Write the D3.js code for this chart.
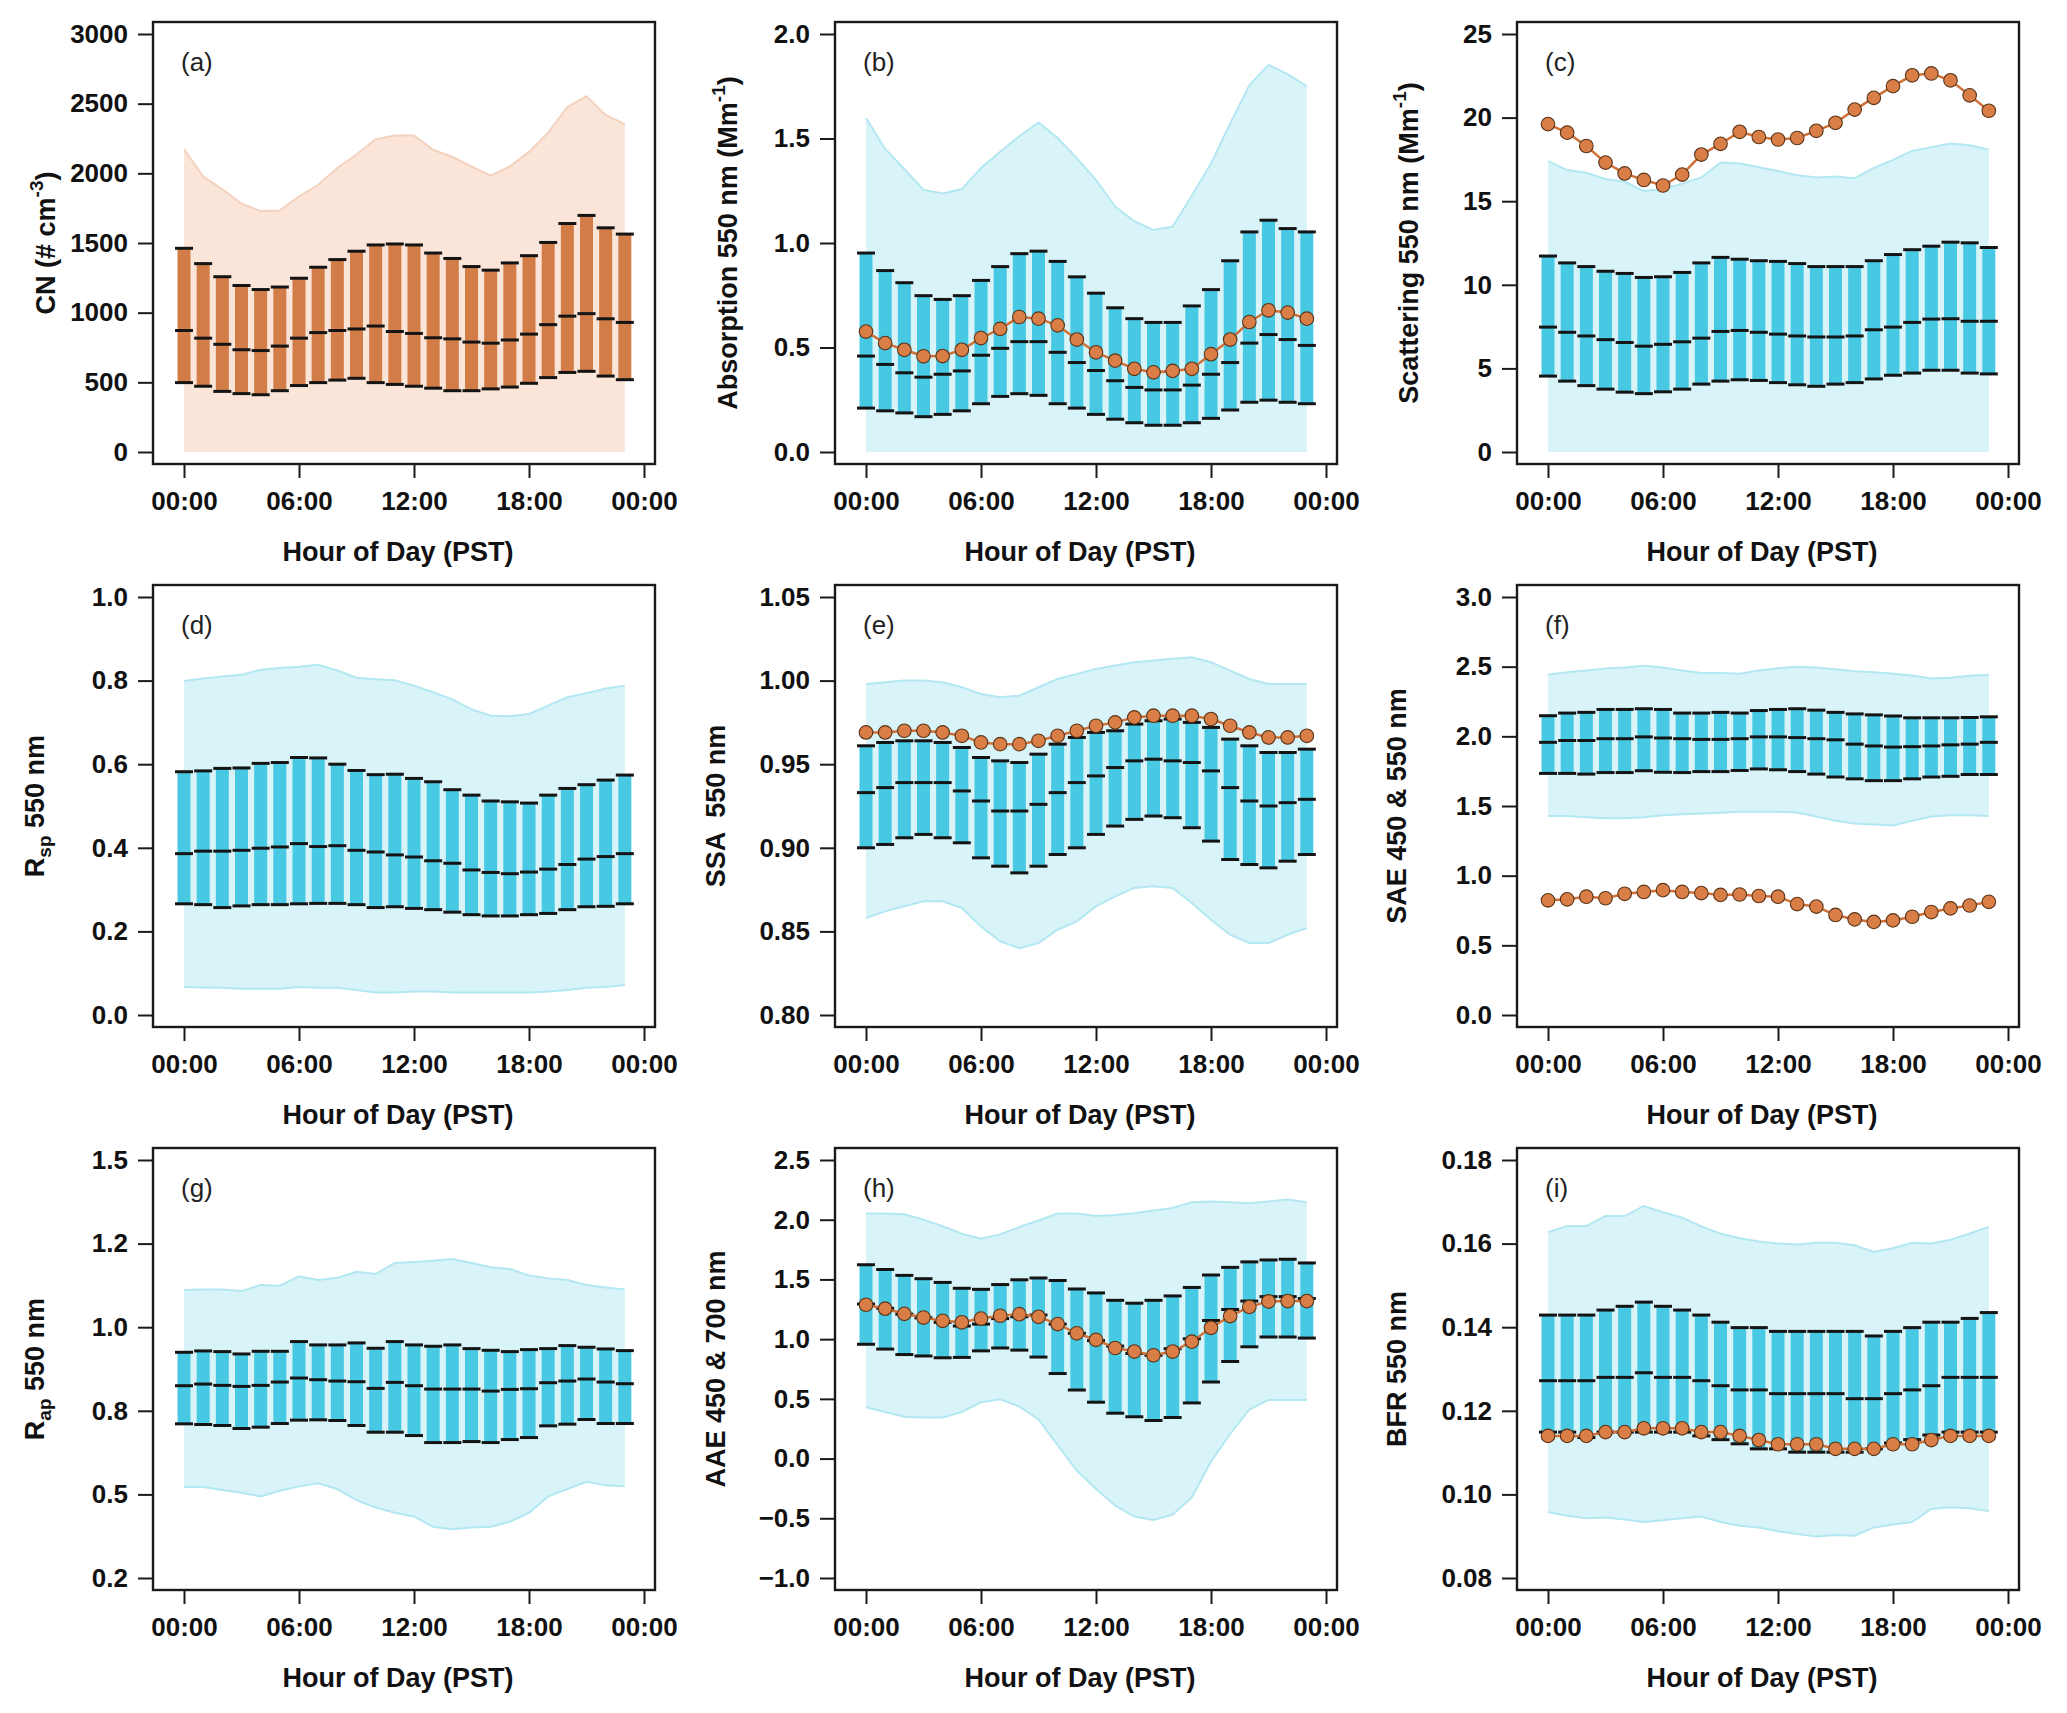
<!DOCTYPE html>
<html>
<head>
<meta charset="utf-8">
<script src="https://cdn.jsdelivr.net/npm/d3@7"></script>
<style>
    body { margin: 0; background: #fff; }
    text { font-family: "Liberation Sans", Arial, sans-serif; }
</style>
</head>
<body>
<div id="body"></div>
<script>
var hours = d3.range(24);
var zeros = [0,0,0,0,0,0,0,0,0,0,0,0,0,0,0,0,0,0,0,0,0,0,0,0];

// (a) CN
var cnTop = [1462,1352,1258,1195,1166,1184,1247,1326,1381,1441,1486,1493,1486,1428,1389,1331,1305,1357,1409,1504,1640,1698,1609,1564];
var cnMed = [872,817,773,734,728,760,817,857,872,883,904,865,851,820,812,789,781,804,846,914,975,993,956,930];
var cnBot = [498,472,435,419,411,440,477,498,516,529,498,485,472,458,440,440,453,466,493,534,571,579,545,519];
var cnHigh = [2174,1978,1886,1782,1729,1734,1834,1918,2038,2135,2245,2271,2271,2169,2117,2049,1983,2049,2154,2292,2476,2554,2418,2353];
var cnTicks = [0,500,1000,1500,2000,2500,3000];

// (b) absorption
var absTop = [0.952,0.868,0.810,0.748,0.730,0.748,0.821,0.887,0.949,0.961,0.912,0.838,0.760,0.690,0.638,0.620,0.620,0.699,0.777,0.915,1.053,1.109,1.069,1.053];
var absMed = [0.459,0.419,0.379,0.358,0.372,0.388,0.463,0.496,0.528,0.528,0.477,0.428,0.390,0.341,0.309,0.297,0.297,0.320,0.372,0.428,0.521,0.562,0.538,0.510];
var absBot = [0.210,0.197,0.187,0.169,0.180,0.197,0.231,0.266,0.279,0.271,0.231,0.210,0.180,0.157,0.140,0.128,0.128,0.140,0.161,0.201,0.238,0.248,0.238,0.231];
var absMean = [0.576,0.521,0.489,0.458,0.459,0.489,0.545,0.589,0.646,0.638,0.606,0.538,0.477,0.437,0.398,0.381,0.388,0.398,0.468,0.538,0.622,0.678,0.667,0.638];
var absHigh = [1.598,1.450,1.354,1.254,1.237,1.258,1.359,1.436,1.511,1.576,1.502,1.406,1.301,1.174,1.104,1.062,1.079,1.226,1.380,1.572,1.755,1.852,1.808,1.750];
var absTicks = [0,0.5,1,1.5,2];

// (c) scattering
var scaTop = [11.72,11.31,11.09,10.81,10.68,10.44,10.48,10.74,11.31,11.64,11.53,11.44,11.40,11.27,11.09,11.09,11.09,11.44,11.81,12.10,12.31,12.55,12.51,12.23];
var scaMed = [7.47,7.16,6.94,6.72,6.55,6.33,6.44,6.59,6.81,7.21,7.27,7.16,7.05,6.94,6.88,6.88,6.94,7.31,7.47,7.75,7.95,7.97,7.82,7.82];
var scaBot = [4.54,4.24,3.97,3.76,3.58,3.49,3.60,3.76,4.06,4.24,4.32,4.28,4.15,4.02,3.93,4.06,4.15,4.37,4.59,4.72,4.89,4.89,4.72,4.67];
var scaMean = [19.61,19.10,18.30,17.31,16.66,16.27,15.94,16.59,17.79,18.43,19.15,18.84,18.69,18.78,19.21,19.69,20.48,21.18,21.88,22.53,22.64,22.23,21.33,20.41];
var scaHigh = [17.40,16.86,16.70,16.33,16.16,15.61,15.72,16.05,16.42,17.31,17.25,17.03,16.81,16.55,16.42,16.48,16.38,16.99,17.47,18.01,18.23,18.45,18.34,18.08];
var scaTicks = [0,5,10,15,20,25];

// (d) Rsp
var rspTop = [0.582,0.584,0.590,0.591,0.602,0.604,0.616,0.615,0.600,0.585,0.575,0.576,0.566,0.558,0.539,0.526,0.512,0.510,0.507,0.526,0.542,0.551,0.562,0.574];
var rspMed = [0.386,0.392,0.392,0.394,0.399,0.402,0.410,0.403,0.405,0.394,0.390,0.383,0.378,0.369,0.363,0.347,0.341,0.338,0.342,0.349,0.360,0.373,0.379,0.386];
var rspBot = [0.266,0.264,0.257,0.261,0.264,0.264,0.266,0.267,0.267,0.264,0.257,0.259,0.255,0.252,0.246,0.240,0.237,0.237,0.240,0.243,0.252,0.259,0.260,0.266];
var rspHigh = [0.799,0.805,0.810,0.814,0.826,0.830,0.833,0.838,0.824,0.807,0.803,0.801,0.788,0.772,0.755,0.731,0.716,0.715,0.720,0.740,0.760,0.770,0.781,0.788];
var rspLow = [0.067,0.066,0.065,0.063,0.063,0.063,0.067,0.065,0.065,0.060,0.054,0.054,0.056,0.056,0.054,0.054,0.054,0.054,0.054,0.056,0.060,0.065,0.067,0.072];
var rspTicks = [0,0.2,0.4,0.6,0.8,1.0];

// (e) SSA
var ssaTop = [0.961,0.963,0.964,0.964,0.963,0.960,0.954,0.952,0.951,0.956,0.962,0.966,0.969,0.970,0.974,0.976,0.977,0.975,0.972,0.965,0.961,0.957,0.957,0.959];
var ssaMed = [0.933,0.936,0.939,0.939,0.939,0.934,0.928,0.922,0.922,0.926,0.933,0.939,0.943,0.948,0.952,0.953,0.952,0.951,0.946,0.936,0.928,0.925,0.927,0.929];
var ssaBot = [0.900,0.902,0.906,0.908,0.906,0.903,0.894,0.889,0.885,0.889,0.896,0.900,0.908,0.913,0.917,0.919,0.918,0.912,0.904,0.893,0.890,0.888,0.892,0.896];
var ssaMean = [0.969,0.969,0.970,0.970,0.969,0.967,0.963,0.962,0.962,0.964,0.967,0.970,0.973,0.975,0.978,0.979,0.979,0.979,0.977,0.973,0.969,0.966,0.966,0.967];
var ssaHigh = [0.998,0.999,1.000,1.000,0.999,0.996,0.992,0.990,0.991,0.996,1.001,1.004,1.007,1.009,1.011,1.012,1.013,1.014,1.011,1.006,1.001,0.998,0.998,0.998];
var ssaLow = [0.858,0.862,0.865,0.868,0.868,0.864,0.853,0.844,0.840,0.843,0.851,0.856,0.865,0.871,0.876,0.877,0.876,0.867,0.857,0.848,0.843,0.843,0.848,0.852];
var ssaTicks = [0.80,0.85,0.90,0.95,1.00,1.05];

// (f) SAE
var saeTop = [2.148,2.167,2.172,2.193,2.193,2.198,2.193,2.167,2.167,2.172,2.167,2.185,2.193,2.198,2.188,2.172,2.161,2.154,2.146,2.133,2.133,2.133,2.135,2.140];
var saeMed = [1.957,1.970,1.970,1.983,1.983,1.996,1.988,1.983,1.978,1.978,1.983,1.996,1.996,1.991,1.983,1.975,1.944,1.931,1.923,1.926,1.931,1.939,1.944,1.957];
var saeBot = [1.734,1.734,1.729,1.740,1.740,1.753,1.742,1.740,1.747,1.747,1.755,1.766,1.760,1.747,1.729,1.708,1.695,1.682,1.682,1.695,1.708,1.713,1.726,1.726];
var saeMean = [0.823,0.830,0.849,0.838,0.870,0.883,0.896,0.883,0.875,0.862,0.865,0.854,0.849,0.796,0.778,0.718,0.686,0.668,0.679,0.705,0.739,0.765,0.786,0.812];
var saeHigh = [2.442,2.460,2.473,2.486,2.494,2.507,2.494,2.473,2.455,2.455,2.450,2.473,2.489,2.499,2.494,2.481,2.468,2.460,2.450,2.436,2.415,2.421,2.434,2.442];
var saeLow = [1.428,1.428,1.420,1.412,1.412,1.420,1.433,1.441,1.446,1.451,1.459,1.459,1.459,1.454,1.425,1.394,1.375,1.368,1.360,1.394,1.425,1.433,1.433,1.428];
var saeTicks = [0,0.5,1,1.5,2,2.5,3];

// (g) Rap
var rapTop = [0.925,0.929,0.927,0.920,0.928,0.928,0.957,0.947,0.947,0.953,0.937,0.957,0.947,0.943,0.947,0.936,0.931,0.927,0.933,0.936,0.945,0.940,0.935,0.930];
var rapMed = [0.825,0.830,0.826,0.823,0.826,0.836,0.848,0.843,0.839,0.837,0.817,0.835,0.825,0.815,0.815,0.815,0.809,0.814,0.816,0.834,0.839,0.845,0.836,0.831];
var rapBot = [0.711,0.709,0.706,0.697,0.701,0.712,0.722,0.723,0.721,0.706,0.686,0.686,0.676,0.655,0.655,0.658,0.655,0.664,0.670,0.705,0.710,0.724,0.712,0.712];
var rapHigh = [1.111,1.113,1.113,1.108,1.126,1.124,1.152,1.141,1.148,1.166,1.159,1.192,1.195,1.199,1.204,1.192,1.179,1.174,1.155,1.146,1.141,1.126,1.119,1.113];
var rapLow = [0.522,0.522,0.513,0.505,0.494,0.511,0.524,0.533,0.516,0.483,0.461,0.445,0.434,0.403,0.396,0.401,0.403,0.418,0.445,0.494,0.516,0.538,0.527,0.524];
var rapTicks = [0.25,0.5,0.75,1.0,1.25,1.5];
var rapTickLabels = ["0.2","0.5","0.8","1.0","1.2","1.5"];

// (h) AAE
var aaeTop = [1.623,1.583,1.534,1.506,1.475,1.426,1.417,1.457,1.497,1.512,1.491,1.420,1.387,1.325,1.301,1.325,1.362,1.433,1.537,1.601,1.647,1.663,1.669,1.638];
var aaeMed = [1.294,1.258,1.209,1.178,1.141,1.110,1.126,1.172,1.187,1.202,1.126,1.049,0.988,0.942,0.880,0.865,0.920,1.003,1.156,1.248,1.319,1.356,1.356,1.340];
var aaeBot = [0.957,0.917,0.871,0.859,0.844,0.847,0.902,0.926,0.908,0.850,0.712,0.574,0.472,0.380,0.350,0.319,0.344,0.466,0.641,0.813,0.936,1.018,1.018,1.009];
var aaeMean = [1.288,1.255,1.212,1.181,1.153,1.141,1.172,1.196,1.209,1.187,1.126,1.049,0.994,0.926,0.896,0.865,0.896,0.979,1.095,1.193,1.270,1.316,1.319,1.319];
var aaeHigh = [2.052,2.052,2.046,2.000,1.945,1.883,1.840,1.877,1.939,1.994,2.052,2.052,2.031,2.040,2.055,2.077,2.098,2.147,2.153,2.147,2.138,2.153,2.169,2.147];
var aaeLow = [0.429,0.390,0.350,0.344,0.344,0.390,0.472,0.497,0.436,0.328,0.113,-0.101,-0.255,-0.393,-0.485,-0.515,-0.469,-0.325,-0.025,0.206,0.411,0.491,0.491,0.491];
var aaeTicks = [-1,-0.5,0,0.5,1,1.5,2,2.5];

// (i) BFR
var bfrTop = [0.1429,0.1429,0.1429,0.1441,0.1450,0.1460,0.1450,0.1441,0.1429,0.1412,0.1399,0.1399,0.1390,0.1390,0.1390,0.1390,0.1390,0.1379,0.1390,0.1399,0.1412,0.1412,0.1421,0.1435];
var bfrMed = [0.1272,0.1272,0.1272,0.1280,0.1280,0.1291,0.1280,0.1280,0.1272,0.1260,0.1250,0.1250,0.1241,0.1241,0.1241,0.1241,0.1229,0.1229,0.1241,0.1250,0.1260,0.1280,0.1280,0.1280];
var bfrBot = [0.1149,0.1149,0.1136,0.1149,0.1149,0.1149,0.1149,0.1149,0.1140,0.1131,0.1121,0.1109,0.1109,0.1101,0.1101,0.1101,0.1101,0.1109,0.1123,0.1131,0.1142,0.1149,0.1149,0.1149];
var bfrMean = [0.1140,0.1140,0.1140,0.1149,0.1149,0.1158,0.1158,0.1158,0.1149,0.1149,0.1140,0.1130,0.1120,0.1120,0.1120,0.1109,0.1109,0.1109,0.1120,0.1120,0.1130,0.1140,0.1140,0.1140];
var bfrHigh = [0.1627,0.1642,0.1642,0.1666,0.1666,0.1690,0.1675,0.1662,0.1641,0.1624,0.1613,0.1605,0.1600,0.1598,0.1602,0.1602,0.1596,0.1580,0.1589,0.1602,0.1600,0.1609,0.1624,0.1640];
var bfrLow = [0.0958,0.0949,0.0943,0.0945,0.0940,0.0934,0.0938,0.0943,0.0947,0.0934,0.0925,0.0921,0.0912,0.0905,0.0899,0.0903,0.0901,0.0921,0.0928,0.0934,0.0965,0.0969,0.0967,0.0960];
var bfrTicks = [0.08,0.10,0.12,0.14,0.16,0.18];

var xTicks = [0, 6, 12, 18, 24];
var xTickLabels = ["00:00", "06:00", "12:00", "18:00", "00:00"];

// panel table (label parts: [text, "sup"|"sub"|null])
var panels = [
    { tag: "(a)", top: cnTop, med: cnMed, bot: cnBot, mean: null, hi: cnHigh, lo: zeros, ticks: cnTicks, fmt: d3.format("d"), warm: true,
      label: [["CN (# cm", null], ["-3", "sup"], [")", null]], lx: -98 },
    { tag: "(b)", top: absTop, med: absMed, bot: absBot, mean: absMean, hi: absHigh, lo: zeros, ticks: absTicks, fmt: d3.format(".1f"),
      label: [["Absorption 550 nm (Mm", null], ["-1", "sup"], [")", null]], lx: -98 },
    { tag: "(c)", top: scaTop, med: scaMed, bot: scaBot, mean: scaMean, hi: scaHigh, lo: zeros, ticks: scaTicks, fmt: d3.format("d"),
      label: [["Scattering 550 nm (Mm", null], ["-1", "sup"], [")", null]], lx: -99 },
    { tag: "(d)", top: rspTop, med: rspMed, bot: rspBot, mean: null, hi: rspHigh, lo: rspLow, ticks: rspTicks, fmt: d3.format(".1f"),
      label: [["R", null], ["sp", "sub"], [" 550 nm", null]], lx: -109 },
    { tag: "(e)", top: ssaTop, med: ssaMed, bot: ssaBot, mean: ssaMean, hi: ssaHigh, lo: ssaLow, ticks: ssaTicks, fmt: d3.format(".2f"),
      label: [["SSA  550 nm", null]], lx: -110 },
    { tag: "(f)", top: saeTop, med: saeMed, bot: saeBot, mean: saeMean, hi: saeHigh, lo: saeLow, ticks: saeTicks, fmt: d3.format(".1f"),
      label: [["SAE 450 & 550 nm", null]], lx: -111 },
    { tag: "(g)", top: rapTop, med: rapMed, bot: rapBot, mean: null, hi: rapHigh, lo: rapLow, ticks: rapTicks, fmt: function (d, i) { return rapTickLabels[i]; },
      label: [["R", null], ["ap", "sub"], [" 550 nm", null]], lx: -109 },
    { tag: "(h)", top: aaeTop, med: aaeMed, bot: aaeBot, mean: aaeMean, hi: aaeHigh, lo: aaeLow, ticks: aaeTicks, fmt: d3.format(".1f"),
      label: [["AAE 450 & 700 nm", null]], lx: -110 },
    { tag: "(i)", top: bfrTop, med: bfrMed, bot: bfrBot, mean: bfrMean, hi: bfrHigh, lo: bfrLow, ticks: bfrTicks, fmt: d3.format(".2f"),
      label: [["BFR 550 nm", null]], lx: -111 }
];

var colX = [153, 835, 1517],
    rowY = [22, 585, 1148],
    width = 502,
    height = 442;

var svg = d3.select("#body").append("svg")
    .attr("width", 2067)
    .attr("height", 1713);

panels.forEach(function (p, i) {
    var g = svg.append("g")
        .attr("transform", "translate(" + colX[i % 3] + "," + rowY[Math.floor(i / 3)] + ")");
    RenderPanel(g, p);
});

function RenderPanel(g, p) {
    var x = d3.scaleLinear().domain([0, 24]).range([31, 491]);
    var y = d3.scaleLinear().domain([p.ticks[0], p.ticks[p.ticks.length - 1]]).range([height - 12, 12]);

    var fillCol = p.warm ? "#fae5d8" : "#d9f4f9",
        edgeCol = p.warm ? "#f3d2bf" : "#b3e7f1",
        barCol = p.warm ? "#d27c47" : "#47c8e3";

    // shaded envelope
    var area = d3.area()
        .x(function (d) { return x(d); })
        .y0(function (d) { return y(p.lo[d]); })
        .y1(function (d) { return y(p.hi[d]); });
    g.append("path").datum(hours).attr("d", area).attr("fill", fillCol);

    var hiLine = d3.line().x(function (d) { return x(d); }).y(function (d) { return y(p.hi[d]); });
    var loLine = d3.line().x(function (d) { return x(d); }).y(function (d) { return y(p.lo[d]); });
    g.append("path").datum(hours).attr("d", hiLine).attr("fill", "none").attr("stroke", edgeCol).attr("stroke-width", 2);
    if (p.lo !== zeros) {
        g.append("path").datum(hours).attr("d", loLine).attr("fill", "none").attr("stroke", edgeCol).attr("stroke-width", 2);
    }

    // bars
    g.selectAll(".bar")
        .data(hours)
        .enter().append("rect")
        .attr("class", "bar")
        .attr("x", function (d) { return x(d) - 6.5; })
        .attr("width", 13)
        .attr("y", function (d) { return y(p.top[d]); })
        .attr("height", function (d) { return y(p.bot[d]) - y(p.top[d]); })
        .attr("fill", barCol);

    // caps at 75th / 50th / 25th
    [p.top, p.med, p.bot].forEach(function (arr) {
        g.selectAll(null)
            .data(hours)
            .enter().append("line")
            .attr("x1", function (d) { return x(d) - 9; })
            .attr("x2", function (d) { return x(d) + 9; })
            .attr("y1", function (d) { return y(arr[d]); })
            .attr("y2", function (d) { return y(arr[d]); })
            .attr("stroke", "#141414")
            .attr("stroke-width", 3);
    });

    // mean line + markers
    if (p.mean) {
        var meanLine = d3.line().x(function (d) { return x(d); }).y(function (d) { return y(p.mean[d]); });
        g.append("path").datum(hours).attr("d", meanLine)
            .attr("fill", "none").attr("stroke", "#cf7038").attr("stroke-width", 2.5);
        g.selectAll(".dot")
            .data(hours)
            .enter().append("circle")
            .attr("class", "dot")
            .attr("cx", function (d) { return x(d); })
            .attr("cy", function (d) { return y(p.mean[d]); })
            .attr("r", 6.8)
            .attr("fill", "#d97e47")
            .attr("stroke", "#5a3418")
            .attr("stroke-width", 1.1);
    }

    // frame
    g.append("rect")
        .attr("width", width).attr("height", height)
        .attr("fill", "none").attr("stroke", "#1a1a1a").attr("stroke-width", 2.4);

    // axes
    var yAxis = d3.axisLeft(y).tickValues(p.ticks).tickSize(15).tickPadding(10).tickFormat(p.fmt);
    var ya = g.append("g").call(yAxis);
    var xAxis = d3.axisBottom(x).tickValues(xTicks).tickSize(14).tickPadding(14)
        .tickFormat(function (d, i) { return xTickLabels[i]; });
    var xa = g.append("g").attr("transform", "translate(0," + height + ")").call(xAxis);
    [ya, xa].forEach(function (a) {
        a.select(".domain").remove();
        a.selectAll(".tick line").attr("stroke", "#1a1a1a").attr("stroke-width", 2);
        a.selectAll(".tick text")
            .attr("fill", "#111")
            .style("font-family", "'Liberation Sans', Arial, sans-serif")
            .style("font-size", "26px")
            .style("font-weight", "bold");
    });

    g.append("text")
        .attr("x", width / 2 - 6)
        .attr("y", height + 97)
        .attr("text-anchor", "middle")
        .style("font-size", "27px")
        .style("font-weight", "bold")
        .attr("fill", "#111")
        .text("Hour of Day (PST)");

    // y label, rotated
    var yl = g.append("text")
        .attr("transform", "translate(" + p.lx + "," + (height / 2) + ") rotate(-90)")
        .attr("text-anchor", "middle")
        .style("font-size", "27px")
        .style("font-weight", "bold")
        .style("white-space", "pre")
        .attr("fill", "#111");
    var shift = 0;
    p.label.forEach(function (part) {
        var t = yl.append("tspan").text(part[0]);
        if (part[1] == "sup") {
            t.attr("dy", -12 - shift).style("font-size", "19px");
            shift = -12;
        } else if (part[1] == "sub") {
            t.attr("dy", 7 - shift).style("font-size", "19px");
            shift = 7;
        } else if (shift != 0) {
            t.attr("dy", -shift);
            shift = 0;
        }
    });

    g.append("text")
        .attr("x", 28)
        .attr("y", 49)
        .style("font-size", "26px")
        .attr("fill", "#222")
        .text(p.tag);
}
</script>
</body>
</html>
